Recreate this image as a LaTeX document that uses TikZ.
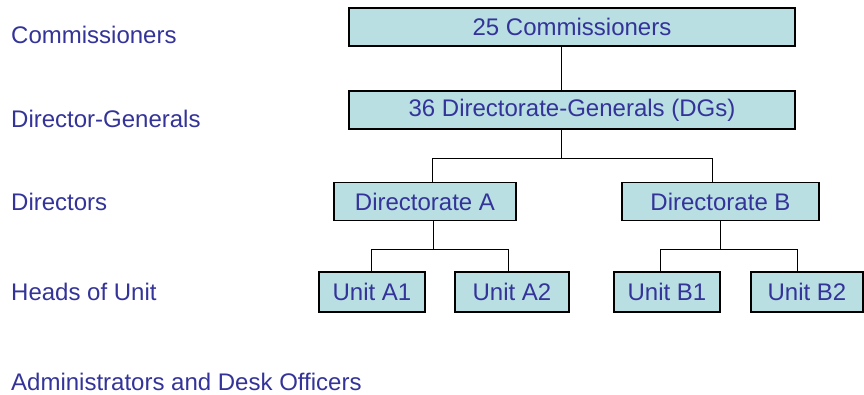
\documentclass[tikz,border=0pt]{standalone}
\usepackage{fontspec}
\setmainfont{Liberation Sans}
\usepackage{tikz}

\definecolor{orgfill}{HTML}{B9DFE2}
\definecolor{orgtext}{HTML}{333399}

\begin{document}
\begin{tikzpicture}[x=1pt,y=1pt]
\tikzstyle{every node}+=[inner sep=0pt]
\tikzstyle{orgbox}=[draw=black,line width=1.2pt,fill=orgfill,text=orgtext,minimum height=38pt,font=\fontsize{24}{28}\selectfont]
\tikzstyle{rowlabel}=[anchor=base west,text=orgtext,font=\fontsize{24}{28}\selectfont]
\useasboundingbox (0,0) rectangle (864,-394);
% row labels
\node [rowlabel] (lcomm) at (11,-43) {Commissioners};
\node [rowlabel] (ldg) at (11,-127) {Director-Generals};
\node [rowlabel] (ldir) at (11,-210) {Directors};
\node [rowlabel] (lhead) at (11,-300) {Heads of Unit};
\node [rowlabel] (ladmin) at (11,-390) {Administrators and Desk Officers};
% boxes
\node [orgbox,minimum width=446pt] (comm) at (572,-27) {25 Commissioners};
\node [orgbox,minimum width=446pt] (dg) at (572,-110) {36 Directorate-Generals (DGs)};
\node [orgbox,minimum width=182pt] (dirA) at (425,-201.5) {Directorate A};
\node [orgbox,minimum width=197pt] (dirB) at (720.5,-201.5) {Directorate B};
\node [orgbox,minimum width=106pt,minimum height=40pt] (unitA1) at (372,-292) {Unit A1};
\node [orgbox,minimum width=114pt,minimum height=40pt] (unitA2) at (512,-292) {Unit A2};
\node [orgbox,minimum width=106pt,minimum height=40pt] (unitB1) at (667,-292) {Unit B1};
\node [orgbox,minimum width=112pt,minimum height=40pt] (unitB2) at (807,-292) {Unit B2};
% connectors
\draw [black,line width=1pt] ([xshift=-11pt]comm.south) -- ([xshift=-11pt]dg.north);
\draw [black,line width=1pt] ([xshift=-11pt]dg.south) -- ++(0,-29) coordinate (dgfork);
\draw [black,line width=1pt] ([xshift=7pt]dirA.north) |- (dgfork) -| ([xshift=-8.5pt]dirB.north);
\draw [black,line width=1pt] ([xshift=8pt]dirA.south) -- ++(0,-28) coordinate (forkA);
\draw [black,line width=1pt] ([xshift=-1pt]unitA1.north) |- (forkA) -| ([xshift=-4pt]unitA2.north);
\draw [black,line width=1pt] (dirB.south) -- ++(0,-28) coordinate (forkB);
\draw [black,line width=1pt] ([xshift=-7pt]unitB1.north) |- (forkB) -| ([xshift=-10pt]unitB2.north);
\end{tikzpicture}
\end{document}
